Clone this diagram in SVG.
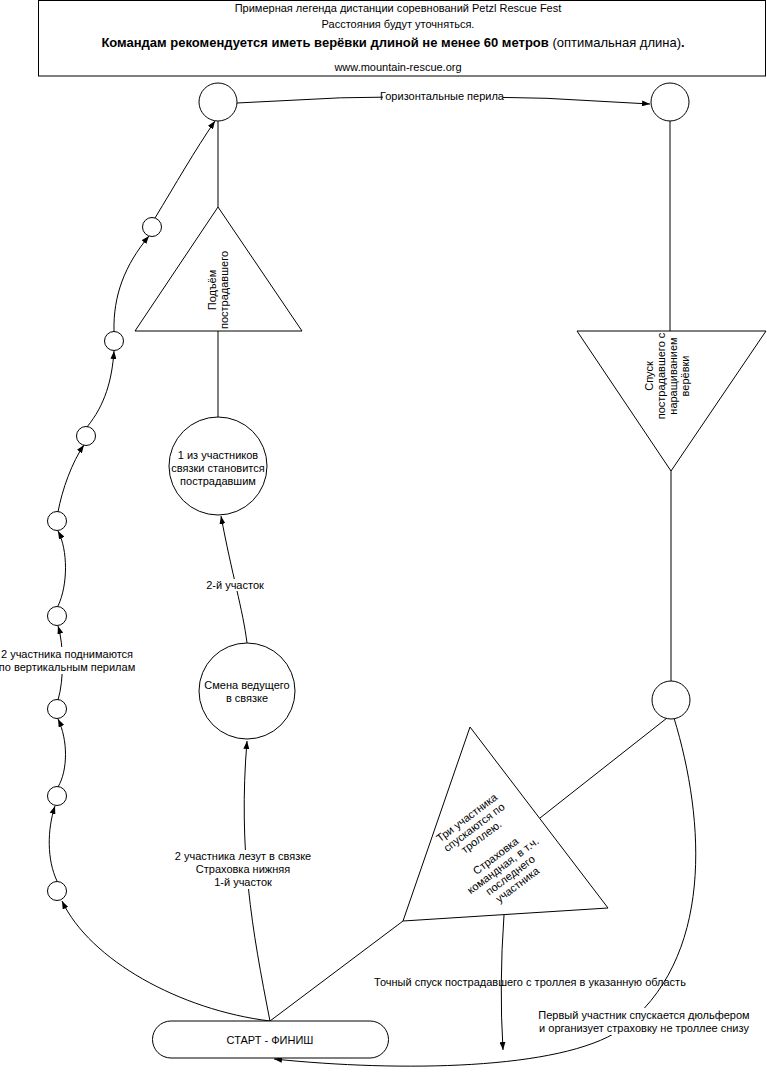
<svg xmlns="http://www.w3.org/2000/svg" width="767" height="1076" viewBox="0 0 767 1076">
<defs>
<marker id="arr" viewBox="0 0 8 6" refX="8" refY="3" markerWidth="8" markerHeight="6" markerUnits="userSpaceOnUse" orient="auto"><path d="M0,0 L8,3 L0,6 z" fill="#000"/></marker>
<style>
.n{fill:#fff;stroke:#000;stroke-width:1}
.c{fill:none;stroke:#000;stroke-width:1}
.a{marker-end:url(#arr)}
.t{font-family:"Liberation Sans",Arial,sans-serif;font-size:11px;fill:#000;text-anchor:middle;dominant-baseline:central}
.bg{fill:#fff;stroke:none}
</style>
</defs>
<rect width="767" height="1076" fill="#fff"/>

<g id="header">
<rect class="n" x="38.5" y="0.5" width="727" height="75.5"/>
<text class="t" x="398" y="8">Примерная легенда дистанции соревнований Petzl Rescue Fest</text>
<text class="t" x="398" y="24">Расстояния будут уточняться.</text>
<text class="t" x="393" y="42" style="font-size:13px"><tspan font-weight="bold">Командам рекомендуется иметь верёвки длиной не менее 60 метров</tspan> (оптимальная длина)<tspan font-weight="bold">.</tspan></text>
<text class="t" x="398" y="67">www.mountain-rescue.org</text>
</g>

<g id="connectors">
<path class="c a" d="M237,103 Q444,89 650,104"/>
<path class="c" d="M218,207 L218,121"/>
<path class="c" d="M218,331 L218,417"/>
<path class="c a" d="M247,643 C243,610 232,575 221,516"/>
<path class="c a" d="M270,1021 C252,930 238,850 247,741"/>
<path class="c a" d="M270,1021 C180,1010 90,960 62,901"/>
<path class="c a" d="M57,881 C47,860 47,830 55,806"/>
<path class="c a" d="M58,787 C68,770 68,740 58,719"/>
<path class="c a" d="M58,700 C64,680 64,645 58,626"/>
<path class="c a" d="M58,606 C68,585 68,550 58,531"/>
<path class="c a" d="M58,512 C62,490 72,462 84,445"/>
<path class="c a" d="M87,427 C105,405 112,380 114,351"/>
<path class="c a" d="M114,332 C113,295 125,265 149,236"/>
<path class="c a" d="M155,218 C175,185 195,150 215,121"/>
<path class="c" d="M670,121 L670,331"/>
<path class="c" d="M671,471 L671,681"/>
<path class="c" d="M667,718 L540,818"/>
<path class="c" d="M270,1021 L403,921"/>
<path class="c a" d="M504,915 Q499,985 503,1050"/>
<path class="c a" d="M674,718 C705,820 715,960 620,1030 C560,1070 400,1072 274,1059"/>
<rect class="bg" x="383" y="90" width="120" height="12"/>
<text class="t" x="442" y="96">Горизонтальные перила</text>
<rect class="bg" x="207" y="579" width="57" height="12"/>
<text class="t" x="235" y="585">2-й участок</text>
<rect class="bg" x="177" y="850" width="132" height="39"/>
<text class="t" x="243" y="856">2 участника лезут в связке</text>
<text class="t" x="243" y="869">Страховка нижняя</text>
<text class="t" x="243" y="882">1-й участок</text>
<rect class="bg" x="3" y="647" width="128" height="27"/>
<text class="t" x="67" y="654">2 участника поднимаются</text>
<text class="t" x="67" y="667">по вертикальным перилам</text>
<text class="t" x="530" y="982">Точный спуск пострадавшего с троллея в указанную область</text>
<rect class="bg" x="541" y="1008" width="206" height="27"/>
<text class="t" x="644" y="1015">Первый участник спускается дюльфером</text>
<text class="t" x="644" y="1028">и организует страховку не троллее снизу</text>
</g>

<g id="top-left"><circle class="n" cx="218" cy="102" r="19"/></g>
<g id="top-right"><circle class="n" cx="670" cy="102" r="19"/></g>

<g id="p1"><circle class="n" cx="57" cy="891" r="9.5"/></g>
<g id="p2"><circle class="n" cx="57" cy="796" r="9.5"/></g>
<g id="p3"><circle class="n" cx="57" cy="709" r="9.5"/></g>
<g id="p4"><circle class="n" cx="57" cy="616" r="9.5"/></g>
<g id="p5"><circle class="n" cx="57" cy="521" r="9.5"/></g>
<g id="p6"><circle class="n" cx="86" cy="436" r="9.5"/></g>
<g id="p7"><circle class="n" cx="114" cy="341" r="9.5"/></g>
<g id="p8"><circle class="n" cx="152" cy="227" r="9.5"/></g>

<g id="lift">
<polygon class="n" points="218,207 135,331 302,331"/>
<g transform="translate(218,290) rotate(-90)">
<text class="t" x="0" y="-6">Подъём</text>
<text class="t" x="0" y="6">пострадавшего</text>
</g>
</g>

<g id="victim">
<circle class="n" cx="218" cy="466" r="49"/>
<text class="t" x="218" y="455">1 из участников</text>
<text class="t" x="218" y="468">связки становится</text>
<text class="t" x="218" y="481">пострадавшим</text>
</g>

<g id="swap">
<circle class="n" cx="247" cy="691" r="48"/>
<text class="t" x="247" y="685">Смена ведущего</text>
<text class="t" x="247" y="698">в связке</text>
</g>

<g id="lower">
<polygon class="n" points="577,331 766,331 671,471"/>
<g transform="translate(667,376) rotate(-90)">
<text class="t" x="0" y="-18">Спуск</text>
<text class="t" x="0" y="-6">пострадавшего с</text>
<text class="t" x="0" y="6">наращиванием</text>
<text class="t" x="0" y="18">верёвки</text>
</g>
</g>

<g id="bottom-right"><circle class="n" cx="671" cy="700" r="19"/></g>

<g id="trolley">
<polygon class="n" points="470,727 608,908 403,921"/>
<g transform="translate(492,851) rotate(-37)">
<text class="t" x="0" y="-42">Три участника</text>
<text class="t" x="0" y="-30">спускаются по</text>
<text class="t" x="0" y="-18">троллею.</text>
<text class="t" x="0" y="6">Страховка</text>
<text class="t" x="0" y="18">командная, в т.ч.</text>
<text class="t" x="0" y="30">последнего</text>
<text class="t" x="0" y="42">участника</text>
</g>
</g>

<g id="start">
<rect class="n" x="152.5" y="1021" width="236" height="37" rx="18.5"/>
<text class="t" x="270" y="1040">СТАРТ - ФИНИШ</text>
</g>
</svg>
